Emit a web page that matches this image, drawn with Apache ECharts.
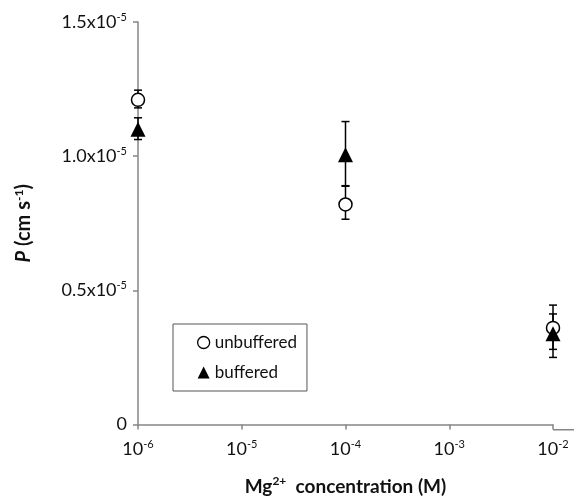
<!DOCTYPE html>
<html>
<head>
<meta charset="utf-8">
<script src="https://cdn.jsdelivr.net/npm/echarts@6/dist/echarts.min.js"></script>
<style>
  html, body { margin: 0; padding: 0; background: #fff; }
  #chart { width: 574px; height: 501px; }
</style>
</head>
<body>
<div id="chart"></div>
<script>
// 数据
var concentrations = [1e-6, 1e-4, 1e-2];
var unbufferedMean = [1.21e-5, 0.82e-5, 0.36e-5];
var unbufferedLow = [1.18e-5, 0.765e-5, 0.28e-5];
var unbufferedHigh = [1.246e-5, 0.888e-5, 0.445e-5];
var bufferedMean = [1.10e-5, 1.005e-5, 0.338e-5];
var bufferedLow = [1.062e-5, 0.89e-5, 0.25e-5];
var bufferedHigh = [1.143e-5, 1.129e-5, 0.412e-5];
var yTicks = [0, 0.5e-5, 1.0e-5, 1.5e-5];

var FONT = "Lato";

function pairs(ys) {
    return concentrations.map(function (x, i) { return [x, ys[i]]; });
}
function bars(lo, hi) {
    return concentrations.map(function (x, i) { return [x, lo[i], hi[i]]; });
}

// 误差线
function errorBar(params, api) {
    var top = api.coord([api.value(0), api.value(2)]);
    var bot = api.coord([api.value(0), api.value(1)]);
    var w = 4;
    var style = { stroke: "#000", lineWidth: 1.5 };
    return {
        type: "group",
        children: [
            { type: "line", shape: { x1: top[0], y1: top[1], x2: bot[0], y2: bot[1] }, style: style },
            { type: "line", shape: { x1: top[0] - w, y1: top[1], x2: top[0] + w, y2: top[1] }, style: style },
            { type: "line", shape: { x1: bot[0] - w, y1: bot[1], x2: bot[0] + w, y2: bot[1] }, style: style }
        ]
    };
}

var richLabel = {
    a: { fontFamily: FONT, fontSize: 18, color: "#111" },
    s: { fontFamily: FONT, fontSize: 11, color: "#111", padding: [0, 0, 10, 0] }
};

var myChart = echarts.init(document.getElementById("chart"));
var option = {
    animation: false,
    backgroundColor: "#fff",
    grid: { left: 138, right: 21, top: 22, bottom: 71 },
    // x轴线右侧延长
    graphic: {
        elements: [{
            type: "rect",
            left: 553,
            top: 429,
            z: 10,
            shape: { x: 0, y: 0, width: 21, height: 1.5 },
            style: { fill: "#868686" }
        }]
    },
    legend: {
        left: 173,
        top: 324,
        orient: "vertical",
        padding: [10, 10, 10, 24],
        itemGap: 13,
        itemWidth: 12,
        itemHeight: 12,
        borderColor: "#555",
        borderWidth: 1,
        textStyle: { fontFamily: FONT, fontSize: 17, color: "#111" },
        data: [
            { name: "unbuffered", icon: "circle", itemStyle: { color: "#fff", borderColor: "#000", borderWidth: 1.3 } },
            { name: "buffered", icon: "triangle", itemStyle: { color: "#000" } }
        ]
    },
    xAxis: {
        type: "log",
        logBase: 10,
        min: 1e-6,
        max: 1e-2,
        splitLine: { show: false },
        axisLine: { lineStyle: { color: "#868686", width: 1.5 } },
        axisTick: { inside: false, length: 5, lineStyle: { color: "#868686", width: 1.5 } },
        minorTick: { show: false },
        axisLabel: {
            margin: 14,
            formatter: function (v) {
                var e = Math.round(Math.log10(v));
                return "{a|10}{s|" + e + "}";
            },
            rich: richLabel
        },
        name: "{a|Mg}{s|2+}{a|  concentration (M)}",
        nameLocation: "middle",
        nameGap: 51,
        nameTextStyle: {
            rich: {
                a: { fontFamily: FONT, fontSize: 19, fontWeight: "bold", color: "#111" },
                s: { fontFamily: FONT, fontSize: 12, fontWeight: "bold", color: "#111", padding: [0, 0, 10, 0] }
            }
        }
    },
    yAxis: {
        type: "value",
        min: yTicks[0],
        max: yTicks[yTicks.length - 1],
        interval: yTicks[1] - yTicks[0],
        splitLine: { show: false },
        axisLine: { show: true, lineStyle: { color: "#868686", width: 1.5 } },
        axisTick: { show: true, length: 5, lineStyle: { color: "#868686", width: 1.5 } },
        axisLabel: {
            margin: 11,
            formatter: function (v) {
                if (v === 0) return "{a|0}";
                return "{a|" + (v * 1e5).toFixed(1) + "x10}{s|-5}";
            },
            rich: richLabel
        },
        name: "{i|P}{a| (cm s}{s|-1}{a|)}",
        nameLocation: "middle",
        nameRotate: 90,
        nameGap: 103,
        nameTextStyle: {
            rich: {
                i: { fontFamily: FONT, fontSize: 20, fontWeight: "bold", fontStyle: "italic", color: "#111" },
                a: { fontFamily: FONT, fontSize: 20, fontWeight: "bold", color: "#111" },
                s: { fontFamily: FONT, fontSize: 12, fontWeight: "bold", color: "#111", padding: [0, 0, 10, 0] }
            }
        }
    },
    series: [
        {
            type: "custom",
            renderItem: errorBar,
            encode: { x: 0, y: [1, 2] },
            data: bars(unbufferedLow, unbufferedHigh),
            z: 1,
            clip: false
        },
        {
            type: "custom",
            renderItem: errorBar,
            encode: { x: 0, y: [1, 2] },
            data: bars(bufferedLow, bufferedHigh),
            z: 1,
            clip: false
        },
        {
            name: "unbuffered",
            type: "scatter",
            symbol: "circle",
            symbolSize: 13,
            itemStyle: { color: "#fff", borderColor: "#000", borderWidth: 1.5, opacity: 1 },
            data: pairs(unbufferedMean),
            z: 3
        },
        {
            name: "buffered",
            type: "scatter",
            symbol: "triangle",
            symbolSize: 15,
            itemStyle: { color: "#000", opacity: 1 },
            data: pairs(bufferedMean),
            z: 4
        }
    ]
};
myChart.setOption(option);
</script>
</body>
</html>
